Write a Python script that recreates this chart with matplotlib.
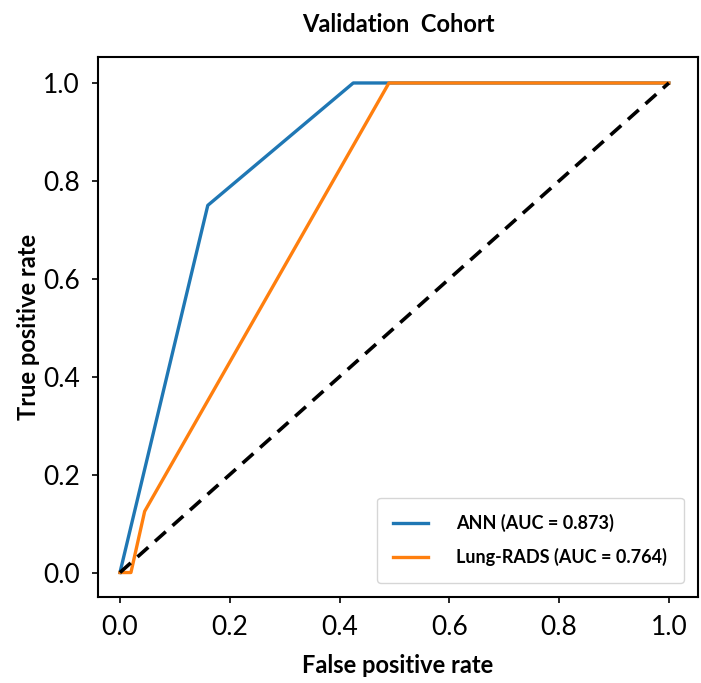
import matplotlib
matplotlib.use("Agg")
import matplotlib.pyplot as plt

ann_fpr = [0.0, 0.16, 0.425, 1.0]
ann_tpr = [0.0, 0.75, 1.0, 1.0]
lr_fpr = [0.0, 0.02, 0.045, 0.49, 1.0]
lr_tpr = [0.0, 0.0, 0.125, 1.0, 1.0]
diag = [0.0, 1.0]
ann_label = "ANN (AUC = 0.873)"
lr_label = "Lung-RADS (AUC = 0.764)"
ticks = [0.0, 0.2, 0.4, 0.6, 0.8, 1.0]

plt.rcParams['font.family'] = ['Lato', 'DejaVu Sans']

fig = plt.figure(figsize=(7.01, 6.83), dpi=100)
ax = fig.add_axes([0.1398, 0.1259, 0.8559, 0.7906])

ax.plot(ann_fpr, ann_tpr, color='#1f77b4', lw=2.4, label=ann_label)
ax.plot(lr_fpr, lr_tpr, color='#ff7f0e', lw=2.4, label=lr_label)
ax.plot(diag, diag, color='black', lw=2.6, ls='--', dashes=(4, 2.5))

ax.set_xlim(-0.04, 1.053)
ax.set_ylim(-0.05, 1.053)
ax.set_xticks(ticks)
ax.set_yticks(ticks)
ax.set_xticklabels([f"{t:.1f}" for t in ticks])
ax.set_yticklabels([f"{t:.1f}" for t in ticks])
ax.tick_params(labelsize=19, length=4, width=1.2, pad=9)
for s in ax.spines.values():
    s.set_linewidth(1.5)

ax.set_xlabel("False positive rate", fontsize=17, fontweight='bold', labelpad=10)
ax.set_ylabel("True positive rate", fontsize=17, fontweight='bold', labelpad=2)
ax.set_title("Validation  Cohort", fontsize=17, fontweight='bold', pad=18)

leg = ax.legend(loc='lower right', prop={'weight': 'bold', 'size': 13},
                handlelength=1.9, handletextpad=1.6, borderpad=0.9,
                labelspacing=0.9, borderaxespad=0.8, fancybox=True)

fig.savefig("out.png", dpi=100)
